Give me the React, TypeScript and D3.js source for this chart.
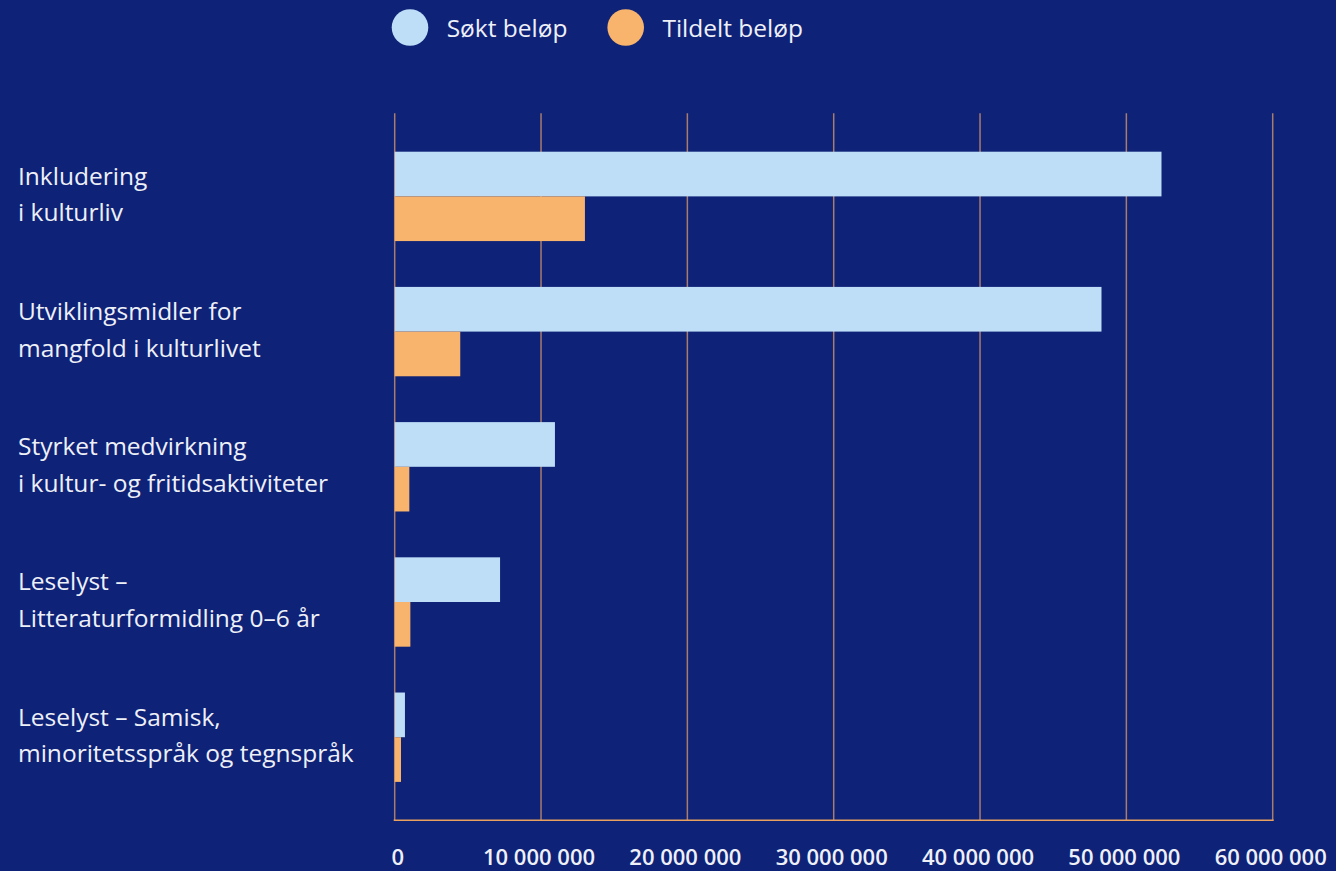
import React from "react";
import * as d3 from "d3";

const categories: string[][] = [
  ["Inkludering", "i kulturliv"],
  ["Utviklingsmidler for", "mangfold i kulturlivet"],
  ["Styrket medvirkning", "i kultur- og fritidsaktiviteter"],
  ["Leselyst –", "Litteraturformidling 0–6 år"],
  ["Leselyst – Samisk,", "minoritetsspråk og tegnspråk"],
];
const seriesNames = ["Søkt beløp", "Tildelt beløp"];
const soktValues = [52400000, 48300000, 10950000, 7200000, 700000];
const tildeltValues = [13000000, 4480000, 1000000, 1070000, 430000];
const tickValues = [0, 10000000, 20000000, 30000000, 40000000, 50000000, 60000000];
const colors = ["#bedef8", "#f8b36c"];

const W = 1336;
const H = 871;
const BG = "#0e2277";
const FONT = "'Open Sans', 'Noto Sans', sans-serif";

export default function App() {
  const keys = categories.map((c) => c.join(" "));
  const x = d3.scaleLinear().domain([0, 60000000]).range([394.7, 1272.7]);
  const y = d3
    .scaleBand<string>()
    .domain(keys)
    .range([113.3, 820.3])
    .paddingInner(0.339)
    .paddingOuter(0.284);
  const inner = d3.scaleBand<string>().domain(seriesNames).range([0, y.bandwidth()]);
  const seriesValues = [soktValues, tildeltValues];
  const fmt = (v: number) => d3.format(",")(v).replace(/,/g, " ");

  return (
    <svg
      width={W}
      height={H}
      style={{ position: "absolute", left: 0, top: 0, background: BG, fontFamily: FONT }}
    >
      <rect x={0} y={0} width={W} height={H} fill={BG} />
      {/* legend */}
      {seriesNames.map((s, i) => {
        const cx = i === 0 ? 410 : 625.7;
        return (
          <g key={s}>
            <circle cx={cx} cy={27.5} r={18.3} fill={colors[i]} />
            <text x={cx + 36.7} y={36.5} fill="#eef0f8" fontSize={24.5}>
              {s}
            </text>
          </g>
        );
      })}
      {/* gridlines */}
      {tickValues.map((t) => (
        <line
          key={t}
          x1={x(t)}
          x2={x(t)}
          y1={113.3}
          y2={820.3}
          stroke="#a97c6e"
          strokeWidth={1.5}
        />
      ))}
      {/* bars */}
      {keys.map((k, ci) =>
        seriesNames.map((s, si) => (
          <rect
            key={k + s}
            x={x(0)}
            y={(y(k) as number) + (inner(s) as number)}
            width={x(seriesValues[si][ci]) - x(0)}
            height={inner.bandwidth()}
            fill={colors[si]}
          />
        ))
      )}
      {/* baseline */}
      <line x1={x(0) - 1} x2={x(60000000) + 1} y1={820.3} y2={820.3} stroke="#e8a15e" strokeWidth={1.5} />
      {/* tick labels */}
      {tickValues.map((t) => (
        <text
          key={t}
          x={t === 0 ? x(t) + 3 : x(t) - 2}
          y={864.5}
          fill="#eef0f8"
          fontSize={22}
          fontWeight={600}
          textAnchor="middle"
        >
          {fmt(t)}
        </text>
      ))}
      {/* category labels */}
      {categories.map((lines, ci) => {
        const cy = (y(keys[ci]) as number) + y.bandwidth() / 2;
        return (
          <text key={ci} fill="#eef0f8" fontSize={24.5}>
            {lines.map((ln, li) => (
              <tspan key={li} x={18} y={cy - 11.7 + li * 36.7}>
                {ln}
              </tspan>
            ))}
          </text>
        );
      })}
    </svg>
  );
}
